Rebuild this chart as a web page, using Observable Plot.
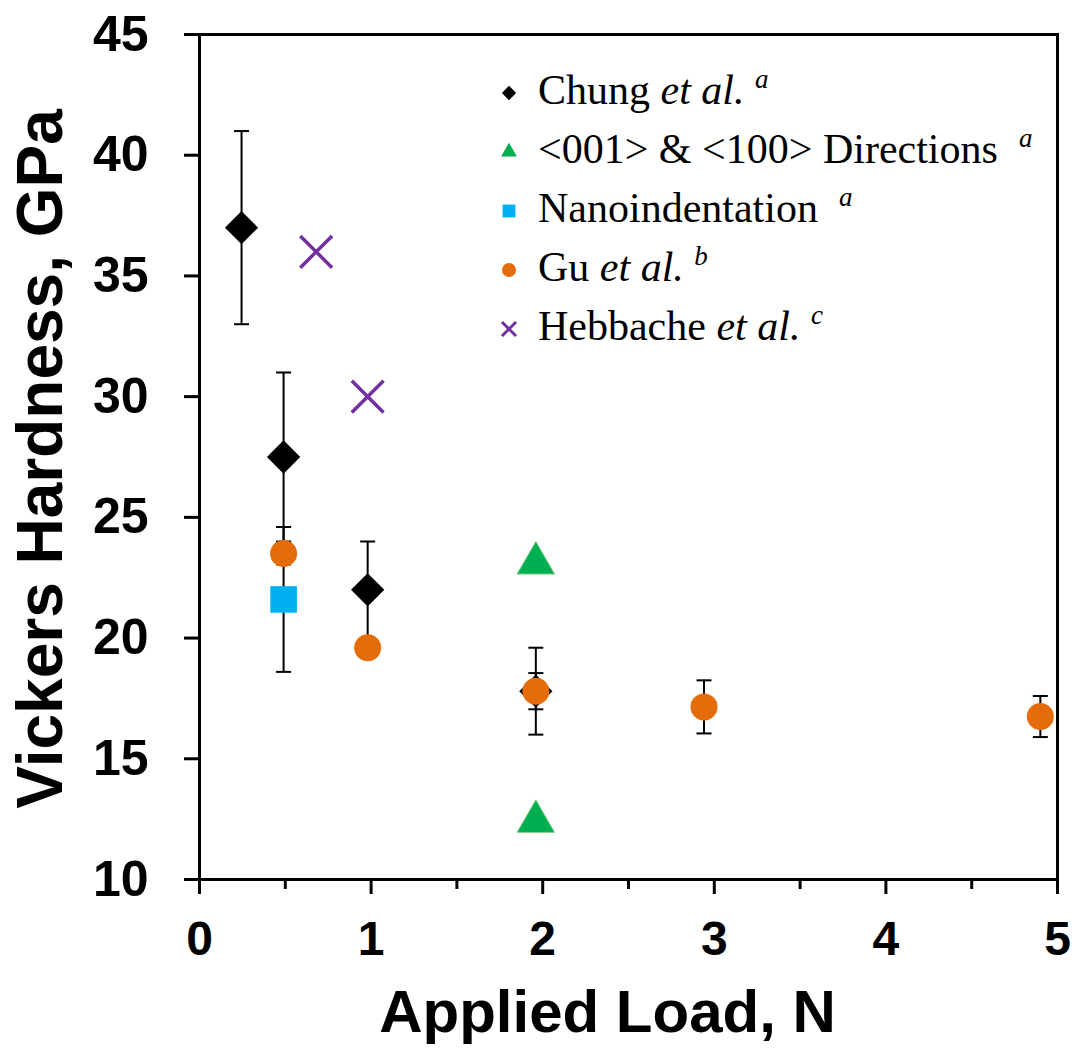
<!DOCTYPE html>
<html>
<head>
<meta charset="utf-8">
<script src="https://cdn.jsdelivr.net/npm/d3@7"></script>
<script src="https://cdn.jsdelivr.net/npm/@observablehq/plot@0.6"></script>
<style>
  html, body { margin: 0; padding: 0; background: #fff; }
  #wrap { position: relative; width: 1082px; height: 1049px; }
  #legend { position: absolute; left: 495px; top: 63px; font-family: "Liberation Serif", "Times New Roman", serif; font-size: 42px; color: #000; }
  .row { height: 59px; line-height: 59px; display: flex; align-items: center; white-space: nowrap; }
  .row svg { width: 28px; height: 28px; margin-right: 15px; flex: none; }
  .sup { font-style: italic; font-size: 27px; position: relative; top: -16px; }
  .it { font-style: italic; }
</style>
</head>
<body>
<div id="wrap"></div>
<script>
// Chung et al. (black diamonds, with error bars)
const chungX = [0.245, 0.49, 0.98, 1.96];
const chungY = [37.0, 27.5, 22.0, 17.8];
const chungErr = [4.0, 3.5, 2.0, 1.8];
// <001> & <100> Directions (green triangles)
const dirX = [1.96, 1.96];
const dirY = [23.1, 12.4];
// Nanoindentation (blue square)
const nanoX = [0.49];
const nanoY = [21.6];
const nanoErr = [3.0];
// Gu et al. (orange circles)
const guX = [0.49, 0.98, 1.96, 2.94, 4.9];
const guY = [23.5, 19.6, 17.8, 17.15, 16.75];
const guErr = [0.45, 0.35, 0.75, 1.1, 0.85];
// Hebbache et al. (purple crosses)
const hebX = [0.68, 0.98];
const hebY = [36.0, 30.0];

const xTicks = [0, 1, 2, 3, 4, 5];
const xMinorTicks = [0.5, 1.5, 2.5, 3.5, 4.5];
const yTicks = [10, 15, 20, 25, 30, 35, 40, 45];

const zip = (xs, ys, es) => xs.map((x, i) => ({x, y: ys[i], e: es ? es[i] : 0}));
const chung = zip(chungX, chungY, chungErr);
const dirs = zip(dirX, dirY);
const nano = zip(nanoX, nanoY, nanoErr);
const gu = zip(guX, guY, guErr);
const heb = zip(hebX, hebY);

const cap = {draw(ctx) { ctx.moveTo(-7.5, 0); ctx.lineTo(7.5, 0); }};

function errorBars(data) {
  return [
    Plot.ruleX(data, {x: "x", y1: d => d.y - d.e, y2: d => d.y + d.e, stroke: "black", strokeWidth: 2}),
    Plot.dot(data, {x: "x", y: d => d.y + d.e, symbol: cap, fill: "none", stroke: "black", strokeWidth: 2}),
    Plot.dot(data, {x: "x", y: d => d.y - d.e, symbol: cap, fill: "none", stroke: "black", strokeWidth: 2})
  ];
}

const font = "'Liberation Sans', Arial, Helvetica, sans-serif";

const chart = Plot.plot({
  width: 1082,
  height: 1049,
  marginLeft: 199,
  marginRight: 25,
  marginTop: 34,
  marginBottom: 170,
  style: {fontFamily: font, background: "white", overflow: "visible"},
  x: {domain: [0, 5]},
  y: {domain: [10, 45]},
  marks: [
    Plot.frame({stroke: "black", strokeWidth: 3}),
    Plot.axisY({ticks: yTicks, tickSize: 15, tickPadding: 36, fontSize: 50, fontWeight: "bold", fontFamily: font, label: null, strokeWidth: 3, tickFormat: d3.format("d")}),
    Plot.axisX({ticks: xTicks, tickSize: 15, tickPadding: 26, fontSize: 48, fontWeight: "bold", fontFamily: font, label: null, strokeWidth: 3, tickFormat: d3.format("d")}),
    Plot.axisX({ticks: xMinorTicks, tickSize: 10, tickFormat: () => "", label: null, strokeWidth: 3}),
    Plot.text(["Applied Load, N"], {frameAnchor: "bottom", textAnchor: "middle", lineAnchor: "middle", dx: -21, dy: 133, fontSize: 60, fontWeight: "bold", fontFamily: font, fill: "black"}),
    Plot.text(["Vickers Hardness, GPa"], {frameAnchor: "left", textAnchor: "middle", lineAnchor: "middle", rotate: -90, dx: -158, dy: 2, fontSize: 64, fontWeight: "bold", fontFamily: font, fill: "black"}),
    ...errorBars(chung),
    Plot.dot(chung, {x: "x", y: "y", symbol: "diamond2", r: 15, fill: "black", stroke: "none"}),
    Plot.dot(dirs, {x: "x", y: "y", symbol: "triangle", r: 14, fill: "#00B050", stroke: "#8fd08a", strokeWidth: 1}),
    ...errorBars(nano),
    Plot.dot(nano, {x: "x", y: "y", symbol: "square", r: 15, fill: "#00B0F0", stroke: "none"}),
    ...errorBars(gu),
    Plot.dot(gu, {x: "x", y: "y", symbol: "circle", r: 13.5, fill: "#E46C0A", stroke: "none"}),
    Plot.dot(heb, {x: "x", y: "y", symbol: "times", r: 14.5, fill: "none", stroke: "#7030A0", strokeWidth: 3.5})
  ]
});

const wrap = document.getElementById("wrap");
wrap.appendChild(chart);

// Legend
const legendItems = [
  {sym: "diamond2", color: "black", size: 130, html: 'Chung <span class="it">et al.</span> <span class="sup">a</span>'},
  {sym: "triangle", color: "#00B050", size: 180, html: '&lt;001&gt; &amp; &lt;100&gt; Directions&nbsp; <span class="sup">a</span>'},
  {sym: "square", color: "#00B0F0", size: 165, html: 'Nanoindentation&nbsp; <span class="sup">a</span>'},
  {sym: "circle", color: "#E46C0A", size: 155, html: 'Gu <span class="it">et al.</span> <span class="sup">b</span>'},
  {sym: "times", color: "#7030A0", size: 130, html: 'Hebbache <span class="it">et al.</span> <span class="sup">c</span>'}
];
const symMap = {diamond2: d3.symbolDiamond2, triangle: d3.symbolTriangle2, square: d3.symbolSquare, circle: d3.symbolCircle, times: d3.symbolTimes};
const legend = document.createElement("div");
legend.id = "legend";
for (const it of legendItems) {
  const row = document.createElement("div");
  row.className = "row";
  const svg = d3.create("svg").attr("viewBox", "-14 -14 28 28");
  const path = svg.append("path").attr("d", d3.symbol(symMap[it.sym], it.size)());
  if (it.sym === "times") path.attr("fill", "none").attr("stroke", it.color).attr("stroke-width", 3);
  else path.attr("fill", it.color);
  row.appendChild(svg.node());
  const span = document.createElement("span");
  span.innerHTML = it.html;
  row.appendChild(span);
  legend.appendChild(row);
}
wrap.appendChild(legend);
</script>
</body>
</html>
